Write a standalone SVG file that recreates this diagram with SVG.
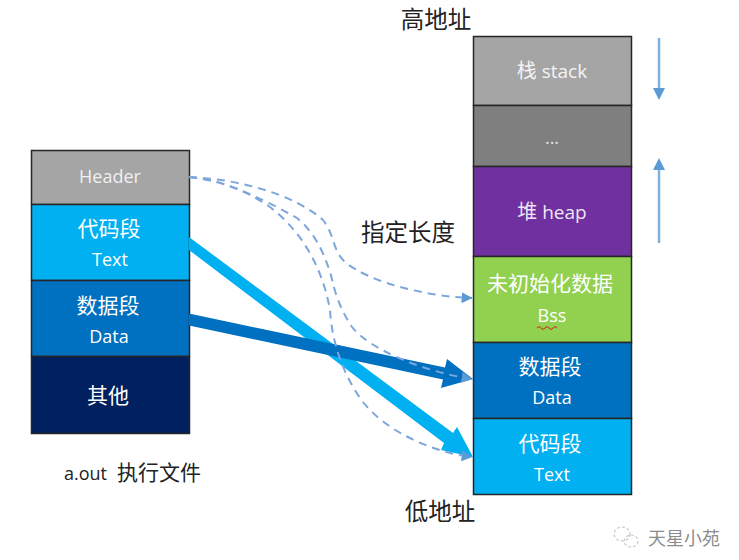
<svg xmlns="http://www.w3.org/2000/svg" width="739" height="560" viewBox="0 0 739 560">
<style>
.b{stroke:#262626;stroke-width:1.5}
.t{font-family:"Open Sans","Noto Sans CJK SC",sans-serif;fill:#fff;text-anchor:middle}
.c{font-family:"Noto Sans CJK SC","Open Sans",sans-serif;fill:#fff;text-anchor:middle;font-size:21px}
.l{font-family:"Noto Sans CJK SC","Liberation Sans",sans-serif;fill:#222;text-anchor:middle;font-size:23.500px}
.d{fill:none;stroke:#7ca6dc;stroke-width:2;stroke-dasharray:8 6}
.s{stroke:#7fb0df;stroke-width:2.500;fill:none}
</style>
<defs>
<marker id="h" viewBox="0 0 10 10" refX="9.500" refY="5" markerWidth="11" markerHeight="11" markerUnits="userSpaceOnUse" orient="auto"><path d="M0 0L10 5L0 10Z" fill="#5b9bd5"/></marker>
</defs>
<rect width="739" height="560" fill="#fff"/>
<g id="exec-header"><rect class="b" x="31.500" y="150.500" width="158" height="54" fill="#a5a5a5"/><text class="t" x="110" y="183" font-size="18" fill-opacity=".85">Header</text></g>
<g id="exec-text"><rect class="b" x="31.500" y="204.500" width="158" height="76" fill="#00b0f0"/><text class="c" x="109" y="236">代码段</text><text class="t" x="110" y="266" font-size="18">Text</text></g>
<g id="exec-data"><rect class="b" x="31.500" y="280.500" width="158" height="76" fill="#0070c0"/><text class="c" x="108" y="313">数据段</text><text class="t" x="109" y="343" font-size="18">Data</text></g>
<g id="exec-other"><rect class="b" x="31.500" y="356.500" width="158" height="77" fill="#002060"/><text class="c" x="108" y="403">其他</text></g>
<g id="exec-label"><text x="64" y="480" font-family="Open Sans,sans-serif" font-size="18" fill="#222">a.out</text><text x="117" y="480" font-family="Noto Sans CJK SC,sans-serif" font-size="21" fill="#222">执行文件</text></g>
<g id="mem-stack"><rect class="b" x="473.500" y="36.500" width="158" height="69" fill="#a5a5a5"/><text x="552" y="78" class="t" font-size="19" fill-opacity=".9"><tspan font-family="Noto Sans CJK SC,sans-serif" font-size="20">栈</tspan> stack</text></g>
<g id="mem-gap"><rect class="b" x="473.500" y="105.500" width="158" height="61" fill="#7f7f7f"/><text class="t" x="552" y="144" font-size="18" fill-opacity=".8">...</text></g>
<g id="mem-heap"><rect class="b" x="473.500" y="166.500" width="158" height="90" fill="#7030a0"/><text x="552" y="219" class="t" font-size="19" fill-opacity=".9"><tspan font-family="Noto Sans CJK SC,sans-serif" font-size="20">堆</tspan> heap</text></g>
<g id="mem-bss"><rect class="b" x="473.500" y="256.500" width="158" height="86" fill="#92d050"/><text class="c" x="550" y="291">未初始化数据</text><text class="t" x="552" y="322" font-size="18">Bss</text><path d="M537 328q2-3 4 0t4 0t4 0t4 0t4 0" fill="none" stroke="#d02020" stroke-width="1"/></g>
<g id="mem-data"><rect class="b" x="473.500" y="342.500" width="158" height="76" fill="#0070c0"/><text class="c" x="550" y="374">数据段</text><text class="t" x="552" y="404" font-size="18">Data</text></g>
<g id="mem-text"><rect class="b" x="473.500" y="418.500" width="158" height="76" fill="#00b0f0"/><text class="c" x="550" y="451">代码段</text><text class="t" x="552" y="481" font-size="18">Text</text></g>
<g id="labels"><text class="l" x="436" y="28">高地址</text><text class="l" x="440" y="520">低地址</text><text class="l" x="408" y="241">指定长度</text></g>
<g id="connectors">
<path d="M189 237L453 433L457 427L473 457L441 450L444 443L189 250Z" fill="#00b0f0"/>
<path d="M189 313.500L445 367.500L447 359L473 379L441 388L443 379.500L189 325.500Z" fill="#0070c0"/>
<path class="d" d="M189 177C240 179 295 195 323 220C335 235 332 250 345 262C370 283 430 297 472 298" marker-end="url(#h)"/>
<path class="d" d="M189 177C225 180 265 200 297 218C318 235 326 260 331 275C335 295 342 312 352 327C370 350 425 372 472 379" marker-end="url(#h)"/>
<path class="d" d="M189 177C220 180 245 190 270 207C300 230 322 265 330 310C332 345 345 378 363 402C385 430 430 452 472 457" marker-end="url(#h)"/>
<path d="M659 38V90" class="s"/><path d="M653 88H665L659 100Z" fill="#5b9bd5"/>
<path d="M659 243V168" class="s"/><path d="M653 170H665L659 158Z" fill="#5b9bd5"/>
</g>
<g id="watermark"><text x="648" y="545" font-family="Noto Sans CJK SC,sans-serif" font-size="18" fill="#8c8c8c">天星小苑</text><g fill="none" stroke="#c8c8c8" stroke-width="1.2" stroke-dasharray="3 2"><ellipse cx="622" cy="534" rx="8" ry="7"/><ellipse cx="631" cy="541" rx="7" ry="6"/></g></g>
</svg>
